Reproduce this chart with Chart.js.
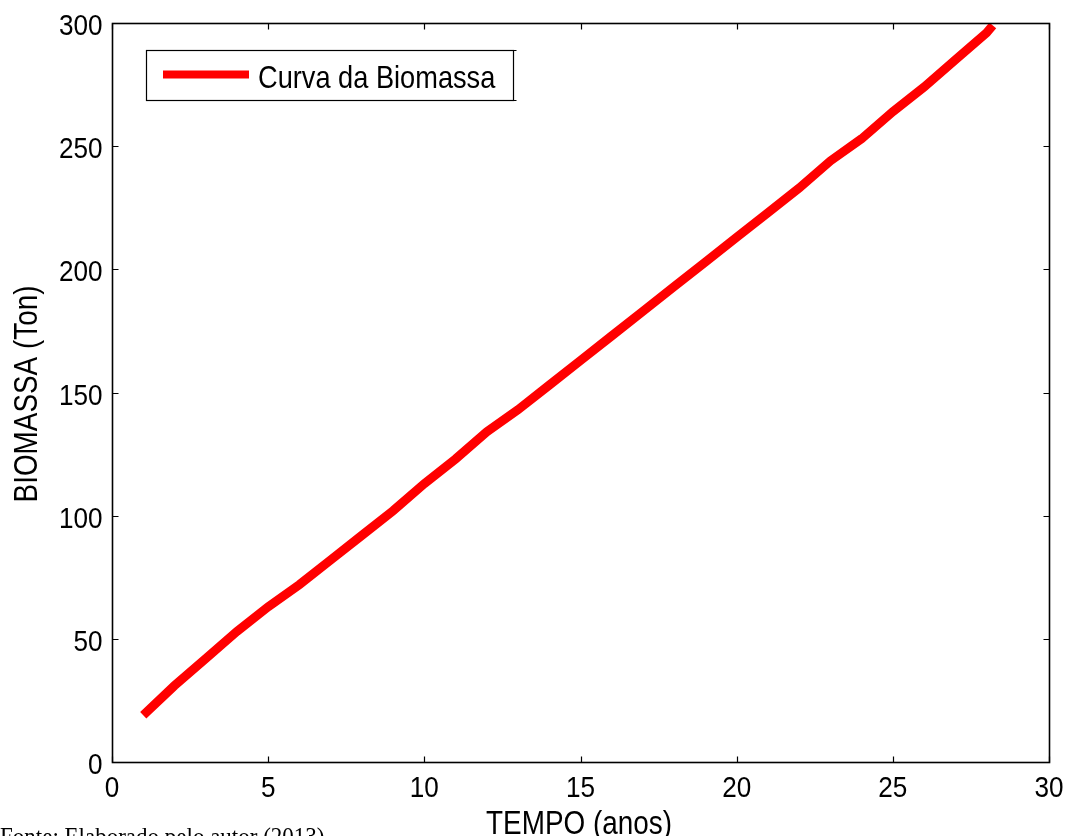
<!DOCTYPE html>
<html>
<head>
<meta charset="utf-8">
<script src="https://cdn.jsdelivr.net/npm/chart.js@4.4.0/dist/chart.umd.min.js"></script>
<style>
  html, body { margin: 0; padding: 0; background: #fff; }
  #wrap { width: 1067px; height: 836px; }
</style>
</head>
<body>
<div id="wrap"><canvas id="biomassChart" width="1067" height="836"></canvas></div>
<script>
// anos e biomassa
const years = [1, 2, 3, 4, 5, 6, 7, 8, 9, 10, 11, 12, 13, 14, 15, 16, 17, 18, 19, 20, 21, 22, 23, 24, 25, 26, 27, 28, 28.2];
const biomass = [19, 31, 42, 53, 63, 72, 82, 92, 102, 113, 123, 134, 143, 153, 163, 173, 183, 193, 203, 213, 223, 233, 244, 253, 264, 274, 285, 296, 299];
const xTicks = [0, 5, 10, 15, 20, 25, 30];
const yTicks = [0, 50, 100, 150, 200, 250, 300];
const seriesLabel = 'Curva da Biomassa';
const xTitle = 'TEMPO (anos)';
const yTitle = 'BIOMASSA (Ton)';
const sourceNote = 'Fonte: Elaborado pelo autor (2013)';

const FONT = '"Liberation Sans", Arial, sans-serif';

const points = years.map((x, i) => ({ x: x, y: biomass[i] }));

// texto um pouco estreitado, como na figura original
function squeezedText(ctx, text, x, y, size, sx, align, rot) {
  ctx.save();
  ctx.translate(x, y);
  if (rot) ctx.rotate(rot);
  ctx.scale(sx, 1);
  ctx.font = size + 'px ' + FONT;
  ctx.textAlign = align;
  ctx.textBaseline = 'alphabetic';
  ctx.fillText(text, 0, 0);
  ctx.restore();
}

// caixa estilo matlab, ticks para dentro, rótulos, legenda e fonte
const boxPlugin = {
  id: 'matlabBox',
  afterDraw(chart) {
    const ctx = chart.ctx;
    const a = chart.chartArea;
    const xs = chart.scales.x, ys = chart.scales.y;
    const L = Math.round(a.left) + 0.5, R = Math.round(a.right) + 0.5;
    const T = Math.round(a.top) + 0.5, B = Math.round(a.bottom) + 0.5;
    const tl = 6;
    ctx.save();
    ctx.strokeStyle = '#000';
    ctx.lineWidth = 1.6;
    ctx.strokeRect(L, T, R - L, B - T);
    ctx.lineWidth = 1.2;
    ctx.beginPath();
    xTicks.forEach(v => {
      const px = Math.round(xs.getPixelForValue(v)) + 0.5;
      ctx.moveTo(px, B); ctx.lineTo(px, B - tl);
      ctx.moveTo(px, T); ctx.lineTo(px, T + tl);
    });
    yTicks.forEach(v => {
      const py = Math.round(ys.getPixelForValue(v)) + 0.5;
      ctx.moveTo(L, py); ctx.lineTo(L + tl, py);
      ctx.moveTo(R, py); ctx.lineTo(R - tl, py);
    });
    ctx.stroke();

    ctx.fillStyle = '#000';
    xTicks.forEach(v => {
      squeezedText(ctx, String(v), xs.getPixelForValue(v), B + 34, 29, 0.9, 'center');
    });
    yTicks.forEach(v => {
      squeezedText(ctx, String(v), L - 10, ys.getPixelForValue(v) + 12, 29, 0.9, 'right');
    });
    squeezedText(ctx, xTitle, (L + R) / 2 - 2, 834, 33, 0.845, 'center');
    squeezedText(ctx, yTitle, 37, (T + B) / 2 + 1, 33, 0.845, 'center', -Math.PI / 2);

    // legenda
    const lx = 146.5, ly = 50.5, lw = 367, lh = 50;
    ctx.fillStyle = '#fff';
    ctx.fillRect(lx, ly, lw, lh);
    ctx.strokeStyle = '#000';
    ctx.lineWidth = 1.2;
    ctx.strokeRect(lx, ly, lw, lh);
    ctx.beginPath();
    ctx.moveTo(lx + lw, ly); ctx.lineTo(lx + lw + 3, ly);
    ctx.moveTo(lx + lw, ly + lh); ctx.lineTo(lx + lw + 3, ly + lh);
    ctx.stroke();
    const ds = chart.data.datasets[0];
    ctx.strokeStyle = ds.borderColor;
    ctx.lineWidth = 8;
    ctx.beginPath();
    ctx.moveTo(163, 74.5); ctx.lineTo(249, 74.5);
    ctx.stroke();
    ctx.fillStyle = '#000';
    squeezedText(ctx, ds.label, 258, 88, 32, 0.85, 'left');

    // nota de fonte (cortada na borda)
    ctx.save();
    ctx.translate(0, 845);
    ctx.scale(0.92, 1);
    ctx.font = '25px "Liberation Serif", "Times New Roman", serif';
    ctx.textAlign = 'left';
    ctx.textBaseline = 'alphabetic';
    ctx.fillText(sourceNote, 0, 0);
    ctx.restore();
    ctx.restore();
  }
};

const ctx = document.getElementById('biomassChart');
const biomassChart = new Chart(ctx, {
  type: 'line',
  data: {
    datasets: [{
      label: seriesLabel,
      data: points,
      borderColor: '#ff0000',
      backgroundColor: '#ff0000',
      borderWidth: 9,
      pointRadius: 0,
      tension: 0,
      fill: false
    }]
  },
  options: {
    responsive: false,
    animation: false,
    devicePixelRatio: 1,
    layout: { padding: { top: 23, right: 18, left: 0, bottom: 0 } },
    plugins: {
      legend: { display: false },
      tooltip: { enabled: false }
    },
    scales: {
      x: {
        type: 'linear',
        min: 0, max: 30,
        afterFit: s => { s.height = 74; },
        afterBuildTicks: s => { s.ticks = xTicks.map(v => ({ value: v })); },
        grid: { display: false },
        border: { display: false },
        ticks: { display: false }
      },
      y: {
        type: 'linear',
        min: 0, max: 300,
        afterFit: s => { s.width = 112; },
        afterBuildTicks: s => { s.ticks = yTicks.map(v => ({ value: v })); },
        grid: { display: false },
        border: { display: false },
        ticks: { display: false }
      }
    }
  },
  plugins: [boxPlugin]
});
</script>
</body>
</html>
